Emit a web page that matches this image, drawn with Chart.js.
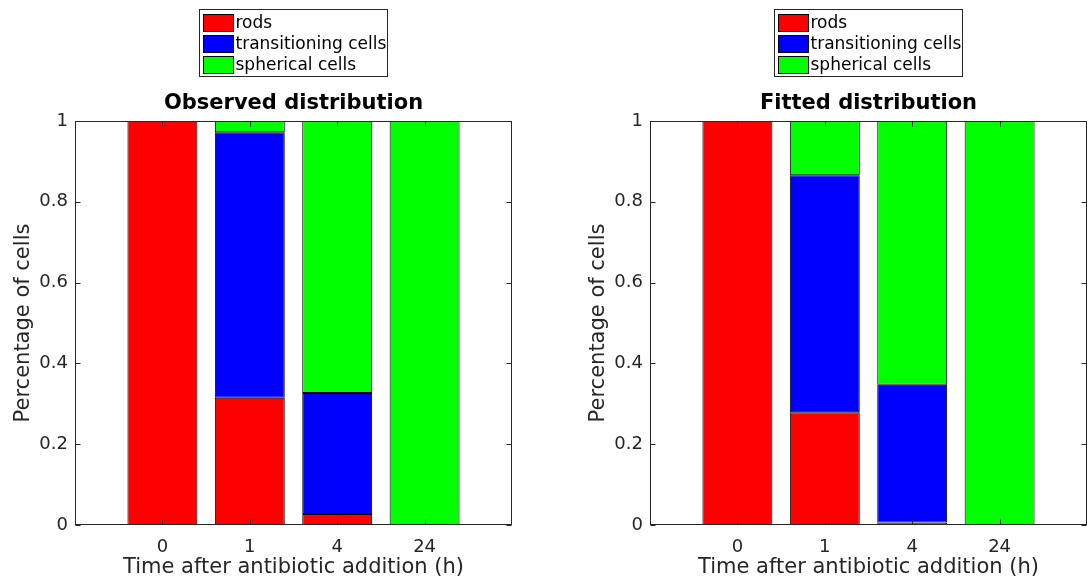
<!DOCTYPE html>
<html><head><meta charset="utf-8">
<script src="https://cdn.jsdelivr.net/npm/chart.js@4.4.1/dist/chart.umd.min.js"></script>
<style>
html,body{margin:0;padding:0;background:#fff;}
#wrap{position:relative;width:1088px;height:583px;overflow:hidden;}
.c{position:absolute;top:0;height:583px;}
</style></head><body>
<div id="wrap">
<div class="c" style="left:0;width:544px"><canvas id="c1"></canvas></div>
<div class="c" style="left:575px;width:513px"><canvas id="c2"></canvas></div>
</div>
<script>
const timeLabels = ['0', '1', '4', '24'];
const seriesNames = ['rods', 'transitioning cells', 'spherical cells'];
const observedRods = [1, 0.315, 0.027, 0];
const observedTransitioning = [0, 0.657, 0.300, 0];
const observedSpherical = [0, 0.028, 0.673, 1];
const fittedRods = [1, 0.279, 0.006, 0];
const fittedTransitioning = [0, 0.587, 0.341, 0];
const fittedSpherical = [0, 0.134, 0.653, 1];
const yTicks = [0, 0.2, 0.4, 0.6, 0.8, 1];
const seriesColors = ['#ff0000', '#0000ff', '#00ff00'];

const FONT = 'DejaVu Sans';
const AXIS_COLOR = '#262626';

const boxPlugin = {
  id: 'boxAxes',
  afterDatasetsDraw(chart) {
    const {ctx, chartArea: a, scales} = chart;
    ctx.save();
    ctx.strokeStyle = AXIS_COLOR;
    ctx.lineWidth = 1;
    const L = Math.round(a.left) + 0.5, R = Math.round(a.right) - 0.5;
    const T = Math.round(a.top) + 0.5, B = Math.round(a.bottom) - 0.5;
    ctx.strokeRect(L, T, R - L, B - T);
    const tl = 5;
    ctx.beginPath();
    scales.y.ticks.forEach(t => {
      const y = Math.round(scales.y.getPixelForValue(t.value)) + 0.5;
      ctx.moveTo(L, y); ctx.lineTo(L + tl, y);
      ctx.moveTo(R, y); ctx.lineTo(R - tl, y);
    });
    scales.x.ticks.forEach(t => {
      const x = Math.round(scales.x.getPixelForValue(t.value)) + 0.5;
      ctx.moveTo(x, B); ctx.lineTo(x, B - tl);
      ctx.moveTo(x, T); ctx.lineTo(x, T + tl);
    });
    ctx.stroke();
    ctx.restore();
  }
};

const legendPlugin = {
  id: 'boxLegend',
  afterDraw(chart, args, opts) {
    const {ctx, chartArea: a} = chart;
    const ds = chart.data.datasets;
    const cx = (a.left + a.right) / 2;
    ctx.save();
    // title centred over the plot area
    ctx.font = 'bold 21px "' + FONT + '"';
    ctx.fillStyle = '#000';
    ctx.textAlign = 'center';
    ctx.textBaseline = 'middle';
    ctx.fillText(opts.title, cx, 104);
    // legend box
    ctx.font = '17px "' + FONT + '"';
    let maxW = 0;
    ds.forEach(d => { maxW = Math.max(maxW, ctx.measureText(d.label).width); });
    const sw = 30, sh = 17, rowH = 21.3;
    const boxW = Math.round(4 + sw + 2 + maxW + 1);
    const boxH = 67;
    const bx = Math.round(cx - 1 - boxW / 2) + 0.5, by = 9.5;
    ctx.fillStyle = '#fff';
    ctx.fillRect(bx, by, boxW, boxH);
    ctx.strokeStyle = AXIS_COLOR;
    ctx.lineWidth = 1;
    ctx.strokeRect(bx, by, boxW, boxH);
    ds.forEach((d, i) => {
      const y0 = Math.round(by + 4 + i * rowH);
      ctx.fillStyle = d.backgroundColor;
      ctx.fillRect(bx + 4, y0, sw, sh);
      ctx.strokeStyle = '#000';
      ctx.strokeRect(bx + 4, y0 + 0.5, sw, sh);
      ctx.fillStyle = '#000';
      ctx.textBaseline = 'middle';
      ctx.textAlign = 'left';
      ctx.fillText(d.label, bx + 4 + sw + 2, y0 + sh / 2 + 1);
    });
    ctx.restore();
  }
};

function makeChart(id, titleText, series, padRight) {
  return new Chart(document.getElementById(id), {
    type: 'bar',
    data: {
      datasets: series.map((arr, i) => ({
        label: seriesNames[i],
        data: arr.map((v, j) => ({x: j + 1, y: v})),
        backgroundColor: seriesColors[i],
        borderColor: '#000',
        borderWidth: 1,
        borderSkipped: false,
        barPercentage: 0.8,
        categoryPercentage: 1
      }))
    },
    options: {
      responsive: true,
      maintainAspectRatio: false,
      animation: false,
      layout: {padding: {top: 121, right: padRight, left: 0, bottom: 0}},
      plugins: {
        legend: {display: false},
        tooltip: {enabled: false},
        title: {display: false},
        boxLegend: {title: titleText}
      },
      scales: {
        x: {
          type: 'linear', min: 0, max: 5, stacked: true, offset: false,
          grid: {display: false, drawTicks: false},
          border: {display: false},
          afterBuildTicks: s => { s.ticks = timeLabels.map((_, i) => ({value: i + 1})); },
          ticks: {
            callback: v => timeLabels[v - 1] ?? '',
            font: {family: FONT, size: 18}, color: AXIS_COLOR,
            padding: 12, maxRotation: 0, autoSkip: false
          },
          title: {
            display: true, text: 'Time after antibiotic addition (h)', color: AXIS_COLOR,
            font: {family: FONT, size: 21}, padding: {top: 0, bottom: 3}
          },
          afterFit: s => { s.height = 58; }
        },
        y: {
          min: 0, max: 1, stacked: true,
          grid: {display: false, drawTicks: false},
          border: {display: false},
          afterBuildTicks: s => { s.ticks = yTicks.map(v => ({value: v})); },
          ticks: {
            callback: v => String(v),
            font: {family: FONT, size: 18}, color: AXIS_COLOR, padding: 7
          },
          title: {
            display: true, text: 'Percentage of cells', color: AXIS_COLOR,
            font: {family: FONT, size: 21}, padding: {top: 11, bottom: 0}
          },
          afterFit: s => { s.width = 75; }
        }
      }
    },
    plugins: [boxPlugin, legendPlugin]
  });
}

makeChart('c1', 'Observed distribution', [observedRods, observedTransitioning, observedSpherical], 32);
makeChart('c2', 'Fitted distribution', [fittedRods, fittedTransitioning, fittedSpherical], 1);
</script>
</body></html>
